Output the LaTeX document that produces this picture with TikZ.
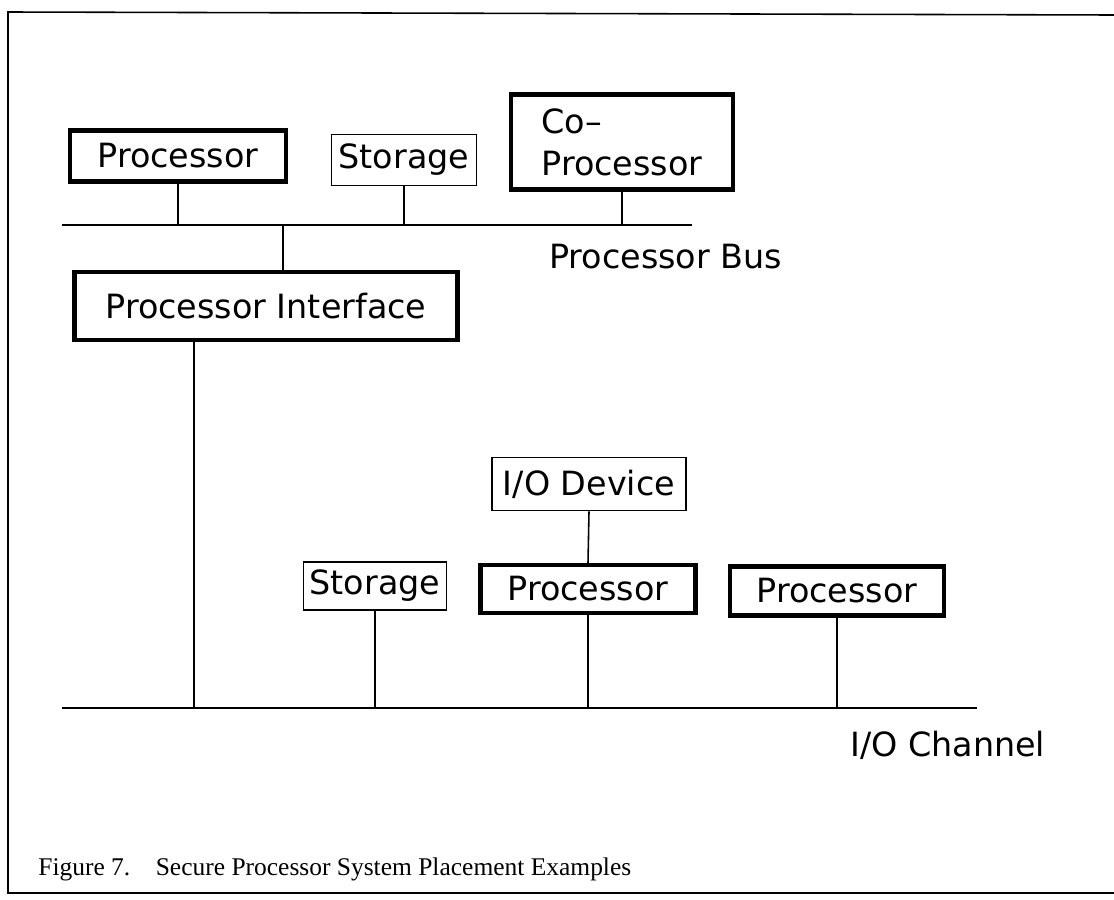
\documentclass[tikz,border=0pt]{standalone}
\usepackage{fontspec}
\newfontfamily\plotfont{DejaVu Sans}
\newfontfamily\capfont{Liberation Serif}
\tikzset{
    unitbox/.style={draw, line width=.9pt, inner sep=0pt, font=\plotfont\fontsize{19}{24}\selectfont},
    cpubox/.style={unitbox, line width=2.4pt},
    wire/.style={line width=.9pt}
}

\begin{document}
\begin{tikzpicture}[x=.02cm, y=-.02cm]
    \useasboundingbox(0, 0)rectangle(1114, 899);
    \draw[wire](1114, 15)--(8, 12)--(8, 893)--(1114, 893);
    \node[cpubox, minimum width=4.32cm, minimum height=1.02cm](procA) at(178, 156){Processor};
    \node[unitbox, minimum width=2.9cm, minimum height=1.02cm](storA) at(404, 160){Storage};
    \node[cpubox, minimum width=4.44cm, minimum height=1.9cm, align=left](copro) at(622, 142){Co\textendash\\Processor};
    \node[cpubox, minimum width=7.66cm, minimum height=1.36cm](pif) at(266, 306){Processor Interface};
    \node[unitbox, minimum width=3.88cm, minimum height=1.06cm](iodev) at(589, 484){I/O Device};
    \node[unitbox, minimum width=2.86cm, minimum height=.96cm](storB) at(375, 586){Storage};
    \node[cpubox, minimum width=4.3cm, minimum height=.96cm](procB) at(588, 589){Processor};
    \node[cpubox, minimum width=4.28cm, minimum height=.98cm](procC) at(837, 591){Processor};
    \coordinate(busL) at(62, 225);
    \coordinate(busR) at(692, 225);
    \coordinate(chanL) at(62, 708);
    \coordinate(chanR) at(977, 708);
    \draw[wire](busL)--(busR);
    \draw[wire](chanL)--(chanR);
    \node[anchor=west, font=\plotfont\fontsize{19}{24}\selectfont](busname) at(543, 257){Processor Bus};
    \node[anchor=west, font=\plotfont\fontsize{19}{24}\selectfont](channame) at(844, 745){I/O Channel};
    \draw[wire](procA.south)--(procA.south |- busL);
    \draw[wire](storA.south)--(storA.south |- busL);
    \draw[wire](copro.south)--(copro.south |- busL);
    \draw[wire]([xshift=.34cm]pif.north)--([xshift=.34cm]pif.north |- busL);
    \draw[wire]([xshift=-1.44cm]pif.south)--([xshift=-1.44cm]pif.south |- chanL);
    \draw[wire](storB.south)--(storB.south |- chanL);
    \draw[wire](iodev.south)--(procB.north);
    \draw[wire](procB.south)--(procB.south |- chanL);
    \draw[wire](procC.south)--(procC.south |- chanL);
    \node[anchor=base west, inner sep=0pt, font=\capfont\fontsize{14.5}{18}\selectfont](caption) at(38, 875){Figure 7.\hspace{1em}Secure Processor System Placement Examples};
\end{tikzpicture}
\end{document}
